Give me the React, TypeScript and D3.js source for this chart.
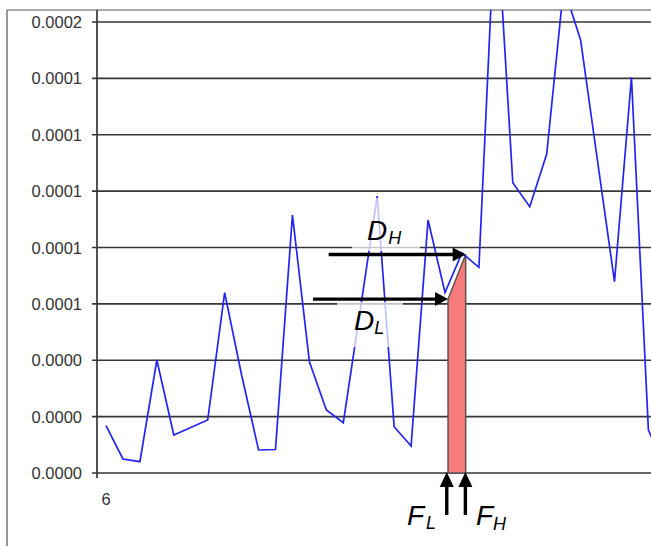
import React from "react";
import * as d3 from "d3";

// Series values (one per category, first category labelled "6")
const seriesValues = [
  0.00001678, 0.00000497, 0.00000401, 0.00004009, 0.00001348, 0.00001614,
  0.0000188, 0.00006397, 0.00003477, 0.00000816, 0.00000834, 0.00009153,
  0.00003949, 0.00002235, 0.00001785, 0.00005783, 0.00009827, 0.00001643,
  0.00000958, 0.00008976, 0.00006404, 0.00007805, 0.00007298, 0.00020328,
  0.00010299, 0.00009448, 0.00011317, 0.00017242, 0.00015362, 0.00011069,
  0.00006787, 0.00014038, 0.00001526, 0.0000018,
];
const yTickValues = [0, 0.00002, 0.00004, 0.00006, 0.00008, 0.0001, 0.00012, 0.00014, 0.00016];
const yTickLabels = ["0.0000", "0.0000", "0.0000", "0.0001", "0.0001", "0.0001", "0.0001", "0.0001", "0.0002"];
const xTickLabels = ["6"];
// Annotation: band between F_L and F_H (category positions), levels D_L and D_H
const bandFreqs = [20.18, 21.22];
const bandLevels = [0.0000617, 0.0000775];
const bandNames = ["L", "H"];

const FONT = "'Liberation Sans', Arial, sans-serif";

export default function App() {
  const W = 651;
  const H = 546;
  const plotLeft = 97;
  const plotTop = 10;
  const plotBottom = 473;
  const x = d3.scaleLinear().domain([0, 32]).range([106, 648.4]);
  const y = d3.scaleLinear().domain([0, 0.00016]).range([plotBottom, 22]);
  const line = d3
    .line<number>()
    .x((_, i) => x(i))
    .y((d) => y(d));

  const fl = x(bandFreqs[0]);
  const fh = x(bandFreqs[1]);
  const dl = y(bandLevels[0]);
  const dh = y(bandLevels[1]);
  const poly = [
    [fl, plotBottom],
    [fl, dl],
    [fh, dh],
    [fh, plotBottom],
  ]
    .map((p) => p.join(","))
    .join(" ");

  const hArrow = (tipX: number, yy: number, len: number, key: string) => (
    <g key={key}>
      <line x1={tipX - len} y1={yy} x2={tipX - 11} y2={yy} stroke="#000" strokeWidth={3.4} />
      <polygon points={`${tipX},${yy} ${tipX - 13},${yy - 7} ${tipX - 13},${yy + 7}`} fill="#000" />
    </g>
  );
  const vArrow = (xx: number, key: string) => (
    <g key={key}>
      <line x1={xx} y1={plotBottom + 12} x2={xx} y2={515} stroke="#000" strokeWidth={3.4} />
      <polygon
        points={`${xx},${plotBottom - 1} ${xx - 7},${plotBottom + 14} ${xx + 7},${plotBottom + 14}`}
        fill="#000"
      />
    </g>
  );

  return (
    <svg
      width={W}
      height={H}
      style={{ position: "absolute", left: 0, top: 0, background: "#fff" }}
      fontFamily={FONT}
    >
      <defs>
        <clipPath id="plotClip">
          <rect x={plotLeft} y={plotTop} width={W - plotLeft} height={plotBottom - plotTop} />
        </clipPath>
      </defs>
      <rect x={0} y={0} width={W} height={H} fill="#fff" />
      {/* outer border */}
      <line x1={7} y1={10} x2={W} y2={10} stroke="#555" strokeWidth={1.2} />
      <line x1={7} y1={10} x2={7} y2={H} stroke="#555" strokeWidth={1.2} />

      {/* gridlines, ticks and labels */}
      {yTickValues.map((v, i) => (
        <g key={"g" + i}>
          <line x1={92} x2={W} y1={y(v)} y2={y(v)} stroke="#363636" strokeWidth={1.7} />
          <text x={82} y={y(v) + 6} textAnchor="end" fontSize={16.5} fill="#333">
            {yTickLabels[i]}
          </text>
        </g>
      ))}
      <line x1={plotLeft} x2={plotLeft} y1={plotTop} y2={plotBottom + 5} stroke="#363636" strokeWidth={1.7} />
      {xTickLabels.map((t, i) => (
        <text key={"x" + i} x={x(i)} y={505} textAnchor="middle" fontSize={16.5} fill="#333">
          {t}
        </text>
      ))}

      {/* band */}
      <polygon points={poly} fill="#f77b7b" stroke="#5c5252" strokeWidth={1.5} />

      {/* series */}
      <g clipPath="url(#plotClip)">
        <path d={line(seriesValues) || ""} fill="none" stroke="#2424f0" strokeWidth={1.7} />
      </g>

      {/* label halos */}
      <rect x={352} y={198} width={68} height={53} fill="#fff" opacity={0.72} />
      <rect x={337} y={302} width={66} height={45} fill="#fff" opacity={0.72} />

      {/* D arrows */}
      {hArrow(fh, dh, 137, "ah")}
      {hArrow(fl, dl, 135, "al")}

      {/* D labels */}
      <text x={367} y={240} fontSize={28} fontStyle="italic" fill="#000">
        D
        <tspan dx={1} dy={3.5} fontSize={18}>
          {bandNames[1]}
        </tspan>
      </text>
      <text x={354} y={330} fontSize={28} fontStyle="italic" fill="#000">
        D
        <tspan dx={0} dy={3.5} fontSize={18}>
          {bandNames[0]}
        </tspan>
      </text>

      {/* F arrows */}
      {vArrow(fl - 1.3, "fl")}
      {vArrow(fh - 0.3, "fh")}

      {/* F labels */}
      <text x={407} y={525} fontSize={28} fontStyle="italic" fill="#000">
        F
        <tspan dx={2} dy={3.5} fontSize={18}>
          {bandNames[0]}
        </tspan>
      </text>
      <text x={476} y={525} fontSize={28} fontStyle="italic" fill="#000">
        F
        <tspan dx={0} dy={5} fontSize={18}>
          {bandNames[1]}
        </tspan>
      </text>
    </svg>
  );
}
